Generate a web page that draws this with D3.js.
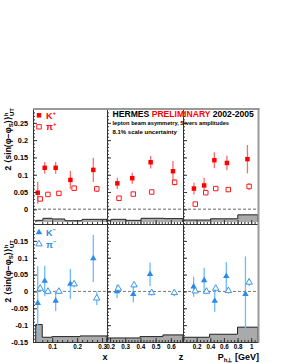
<!DOCTYPE html>
<html>
<head>
<meta charset="utf-8">
<script src="https://cdnjs.cloudflare.com/ajax/libs/d3/7.8.5/d3.min.js"></script>
<style>
  body { margin: 0; background: #fff; }
  svg { display: block; font-family: "Liberation Sans", Arial, sans-serif; font-weight: bold; }
</style>
</head>
<body>
<div id="chart"></div>
<script>
// K+ / pi+ (top row)
const kpX = [0.042, 0.070, 0.114, 0.173, 0.265];
const kpXVal = [0.048, 0.120, 0.120, 0.085, 0.114];
const kpXErr = [0.032, 0.017, 0.017, 0.026, 0.035];
const piPlusX = [0.052, 0.083, 0.127, 0.188, 0.279];
const piPlusXVal = [0.030, 0.043, 0.046, 0.061, 0.059];
const piPlusXErr = [0.006, 0.005, 0.005, 0.007, 0.009];

const kpZ = [0.248, 0.346, 0.467, 0.614];
const kpZVal = [0.075, 0.090, 0.136, 0.110];
const kpZErr = [0.016, 0.016, 0.018, 0.030];
const piPlusZ = [0.259, 0.353, 0.474, 0.625];
const piPlusZVal = [0.032, 0.044, 0.050, 0.078];
const piPlusZErr = [0.004, 0.005, 0.006, 0.009];

const kpP = [0.16, 0.31, 0.46, 0.644, 0.945];
const kpPVal = [0.060, 0.069, 0.142, 0.134, 0.145];
const kpPErr = [0.017, 0.022, 0.023, 0.021, 0.041];
const piPlusP = [0.18, 0.334, 0.48, 0.664, 0.97];
const piPlusPVal = [0.015, 0.048, 0.060, 0.057, 0.066];
const piPlusPErr = [0.004, 0.005, 0.006, 0.006, 0.010];

// K- / pi- (bottom row)
const kmX = [0.042, 0.070, 0.114, 0.173, 0.265];
const kmXVal = [-0.035, 0.031, -0.028, 0.022, 0.098];
const kmXErr = [0.11, 0.045, 0.030, 0.045, 0.070];
const piMinusX = [0.052, 0.083, 0.127, 0.188, 0.279];
const piMinusXVal = [0.009, 0.0, 0.0, 0.022, -0.020];
const piMinusXErr = [0.010, 0.008, 0.008, 0.010, 0.020];

const kmZ = [0.246, 0.353, 0.463];
const kmZVal = [0.0, -0.008, 0.051];
const kmZErr = [0.020, 0.025, 0.035];
const piMinusZ = [0.254, 0.358, 0.474, 0.623];
const piMinusZVal = [0.009, 0.019, -0.004, -0.004];
const piMinusZErr = [0.008, 0.008, 0.008, 0.010];

const kmP = [0.156, 0.31, 0.465, 0.635, 0.916];
const kmPVal = [0.014, 0.033, -0.028, 0.045, -0.008];
const kmPErr = [0.030, 0.037, 0.032, 0.042, 0.112];
const piMinusP = [0.179, 0.345, 0.48, 0.665, 0.97];
const piMinusPVal = [0.001, 0.0, 0.009, 0.002, 0.027];
const piMinusPErr = [0.006, 0.006, 0.007, 0.008, 0.012];

// systematic bands: bin edges and heights
const sysTopXEdges = [0.034, 0.063, 0.099, 0.151, 0.220, 0.32];
const sysTopX = [0.005, 0.011, 0.009, 0.004, 0.008];
const sysTopZEdges = [0.18, 0.206, 0.305, 0.404, 0.555, 0.68];
const sysTopZ = [0.005, 0.008, 0.005, 0.011, 0.010];
const sysTopPEdges = [0, 0.403, 0.804, 1.1];
const sysTopP = [0.006, 0.0095, 0.021];
const sysBotXEdges = [0.034, 0.06, 0.099, 0.212, 0.32];
const sysBotX = [0.052, 0.014, 0.016, 0.018];
const sysBotZEdges = [0.18, 0.397, 0.548, 0.68];
const sysBotZ = [0.012, 0.016, 0.021];
const sysBotPEdges = [0, 0.39, 0.8, 1.1];
const sysBotP = [0.014, 0.023, 0.044];

const width = 281, height = 363;
const red = "#ff0000", redBar = "#ff6b6b";
const blue = "#2b8ae6", blueBar = "#6cbcff";

const svg = d3.select("#chart").append("svg")
    .attr("width", width)
    .attr("height", height);

// Scales
const cols = {
    x: d3.scaleLinear().domain([0.023, 0.32]).range([33, 107]),
    z: d3.scaleLinear().domain([0.18, 0.68]).range([107, 183]),
    p: d3.scaleLinear().domain([0, 1.1]).range([183, 258])
};
const rows = {
    top: d3.scaleLinear().domain([-0.0425, 0.29]).range([224, 109]),
    bot: d3.scaleLinear().domain([-0.15, 0.2]).range([342, 224])
};

// Systematic bands
const bands = [
    { row: "top", col: "x", edges: sysTopXEdges, h: sysTopX, base: -0.037 },
    { row: "top", col: "z", edges: sysTopZEdges, h: sysTopZ, base: -0.037 },
    { row: "top", col: "p", edges: sysTopPEdges, h: sysTopP, base: -0.037 },
    { row: "bot", col: "x", edges: sysBotXEdges, h: sysBotX, base: -0.15 },
    { row: "bot", col: "z", edges: sysBotZEdges, h: sysBotZ, base: -0.15 },
    { row: "bot", col: "p", edges: sysBotPEdges, h: sysBotP, base: -0.15 }
];
bands.forEach(b => {
    const x = cols[b.col], y = rows[b.row];
    b.h.forEach((h, i) => {
        svg.append("rect")
            .attr("x", x(b.edges[i]))
            .attr("y", y(b.base + h))
            .attr("width", x(b.edges[i + 1]) - x(b.edges[i]))
            .attr("height", y(b.base) - y(b.base + h))
            .attr("fill", "#aaa");
    });
    // outline as a step line
    const pts = [];
    b.h.forEach((h, i) => {
        pts.push([x(b.edges[i]), y(b.base + h)]);
        pts.push([x(b.edges[i + 1]), y(b.base + h)]);
    });
    pts.unshift([x(b.edges[0]), y(b.base)]);
    pts.push([x(b.edges[b.edges.length - 1]), y(b.base)]);
    svg.append("path")
        .attr("d", d3.line()(pts))
        .attr("fill", "none")
        .attr("stroke", "#222")
        .attr("stroke-width", 1);
});

// Zero lines
svg.append("line")
    .attr("x1", 33).attr("x2", 258)
    .attr("y1", rows.top(0)).attr("y2", rows.top(0))
    .attr("stroke", "#999").attr("stroke-width", 1.4)
    .attr("stroke-dasharray", "3,2");
svg.append("line")
    .attr("x1", 33).attr("x2", 258)
    .attr("y1", rows.bot(0)).attr("y2", rows.bot(0))
    .attr("stroke", "#555").attr("stroke-width", 0.8)
    .attr("stroke-dasharray", "3,2");

// Data series
const series = [
    { row: "top", col: "x", pos: kpX, val: kpXVal, err: kpXErr, sym: d3.symbolSquare, open: false, c: red, bar: redBar },
    { row: "top", col: "x", pos: piPlusX, val: piPlusXVal, err: piPlusXErr, sym: d3.symbolSquare, open: true, c: red, bar: redBar },
    { row: "top", col: "z", pos: kpZ, val: kpZVal, err: kpZErr, sym: d3.symbolSquare, open: false, c: red, bar: redBar },
    { row: "top", col: "z", pos: piPlusZ, val: piPlusZVal, err: piPlusZErr, sym: d3.symbolSquare, open: true, c: red, bar: redBar },
    { row: "top", col: "p", pos: kpP, val: kpPVal, err: kpPErr, sym: d3.symbolSquare, open: false, c: red, bar: redBar },
    { row: "top", col: "p", pos: piPlusP, val: piPlusPVal, err: piPlusPErr, sym: d3.symbolSquare, open: true, c: red, bar: redBar },
    { row: "bot", col: "x", pos: kmX, val: kmXVal, err: kmXErr, sym: d3.symbolTriangle, open: false, c: blue, bar: blueBar },
    { row: "bot", col: "x", pos: piMinusX, val: piMinusXVal, err: piMinusXErr, sym: d3.symbolTriangle, open: true, c: blue, bar: blueBar },
    { row: "bot", col: "z", pos: kmZ, val: kmZVal, err: kmZErr, sym: d3.symbolTriangle, open: false, c: blue, bar: blueBar },
    { row: "bot", col: "z", pos: piMinusZ, val: piMinusZVal, err: piMinusZErr, sym: d3.symbolTriangle, open: true, c: blue, bar: blueBar },
    { row: "bot", col: "p", pos: kmP, val: kmPVal, err: kmPErr, sym: d3.symbolTriangle, open: false, c: blue, bar: blueBar },
    { row: "bot", col: "p", pos: piMinusP, val: piMinusPVal, err: piMinusPErr, sym: d3.symbolTriangle, open: true, c: blue, bar: blueBar }
];

series.forEach(s => {
    const x = cols[s.col], y = rows[s.row];
    const pts = s.pos.map((p, i) => ({ p, v: s.val[i], e: s.err[i] }));
    svg.append("g").selectAll("line")
        .data(pts)
        .join("line")
        .attr("x1", d => x(d.p)).attr("x2", d => x(d.p))
        .attr("y1", d => y(d.v - d.e)).attr("y2", d => y(d.v + d.e))
        .attr("stroke", s.bar)
        .attr("stroke-width", 1.3);
});
series.forEach(s => {
    const x = cols[s.col], y = rows[s.row];
    const size = s.sym === d3.symbolSquare ? 20 : 18;
    const pts = s.pos.map((p, i) => ({ p, v: s.val[i] }));
    svg.append("g").selectAll("path")
        .data(pts)
        .join("path")
        .attr("transform", d => `translate(${x(d.p)},${y(d.v)})`)
        .attr("d", d3.symbol(s.sym, size))
        .attr("fill", s.open ? "#fff" : s.c)
        .attr("stroke", s.open ? s.c : "none")
        .attr("stroke-width", 0.9);
});

// Axes
const fmt = d => String(+d.toFixed(2));
const yTicks = {
    top: { major: [0, 0.05, 0.1, 0.15, 0.2, 0.25], minor: d3.range(-4, 29).map(i => i / 100) },
    bot: { major: [-0.15, -0.1, -0.05, 0, 0.05, 0.1, 0.15], minor: d3.range(-15, 20).map(i => i / 100) }
};
const xTicks = {
    x: { major: [0.1, 0.2, 0.3], minor: d3.range(3, 16).map(i => i / 50) },
    z: { major: [0.2, 0.3, 0.4, 0.5, 0.6], minor: d3.range(10, 34).map(i => i / 50) },
    p: { major: [0.2, 0.4, 0.6, 0.8, 1], minor: d3.range(1, 22).map(i => i / 20) }
};

Object.keys(rows).forEach(r => {
    const y = rows[r];
    Object.keys(cols).forEach((c, ci) => {
        const x = cols[c];
        const left = x.range()[0];
        const bottom = y.range()[0];
        // left axis, ticks pointing inside
        svg.append("g").attr("transform", `translate(${left},0)`)
            .call(d3.axisRight(y).tickValues(yTicks[r].minor).tickSize(2).tickSizeOuter(0).tickFormat(""));
        svg.append("g").attr("transform", `translate(${left},0)`)
            .call(d3.axisRight(y).tickValues(yTicks[r].major).tickSize(4).tickSizeOuter(0).tickFormat(""));
        if (ci === 0) {
            svg.append("g").attr("transform", `translate(${left},0)`)
                .call(d3.axisLeft(y).tickValues(yTicks[r].major).tickSize(0).tickPadding(5).tickFormat(fmt))
                .call(g => g.select(".domain").remove())
                .selectAll("text").attr("font-size", 7.3).attr("font-family", null).attr("fill", "#000");
        }
        // bottom axis, ticks pointing up
        svg.append("g").attr("transform", `translate(0,${bottom})`)
            .call(d3.axisTop(x).tickValues(xTicks[c].minor.filter(v => v > x.domain()[0] && v < x.domain()[1])).tickSize(2).tickSizeOuter(0).tickFormat(""));
        svg.append("g").attr("transform", `translate(0,${bottom})`)
            .call(d3.axisTop(x).tickValues(xTicks[c].major).tickSize(4).tickSizeOuter(0).tickFormat(""));
        if (r === "bot") {
            svg.append("g").attr("transform", `translate(0,${bottom})`)
                .call(d3.axisBottom(x).tickValues(xTicks[c].major).tickSize(0).tickPadding(2.5).tickFormat(fmt))
                .call(g => g.select(".domain").remove())
                .selectAll("text").attr("font-size", 6.3).attr("font-family", null).attr("fill", "#000");
        }
    });
});
svg.selectAll(".domain, .tick line").attr("stroke", "#333");

// Frame shadow (top and right)
svg.append("line").attr("x1", 33).attr("x2", 259.5).attr("y1", 109).attr("y2", 109)
    .attr("stroke", "#999").attr("stroke-width", 2);
svg.append("line").attr("x1", 258.5).attr("x2", 258.5).attr("y1", 108).attr("y2", 342.5)
    .attr("stroke", "#999").attr("stroke-width", 2);

// Axis titles
svg.append("text").attr("x", 105).attr("y", 359.5).attr("text-anchor", "middle")
    .attr("font-size", 9).text("x");
svg.append("text").attr("x", 181).attr("y", 359.5).attr("text-anchor", "middle")
    .attr("font-size", 9).text("z");
const pt = svg.append("text").attr("x", 259).attr("y", 359.5).attr("text-anchor", "end").attr("font-size", 9);
pt.append("tspan").text("P");
pt.append("tspan").attr("font-size", 6).attr("dy", 2).text("h\u22A5");
pt.append("tspan").attr("dy", -2).text(" [GeV]");

function yTitle(yEnd) {
    const t = svg.append("text")
        .attr("transform", `translate(11,${yEnd}) rotate(-90)`)
        .attr("text-anchor", "end")
        .attr("font-size", 8.5);
    t.append("tspan").text("2 \u27E8sin(\u03C6\u2212\u03C6");
    t.append("tspan").attr("font-size", 6).attr("dy", 2).text("S");
    t.append("tspan").attr("dy", -2).text(")\u27E9");
    t.append("tspan").attr("font-size", 6).attr("dy", -3.5).text("h");
    t.append("tspan").attr("font-size", 6).attr("dx", -3.3).attr("dy", 6).text("UT");
}
yTitle(108);
yTitle(240);

// Legends
function legend(y0, sym, c, name, sign) {
    [false, true].forEach((open, i) => {
        const yy = y0 + i * 11.5;
        svg.append("path")
            .attr("transform", `translate(39,${yy})`)
            .attr("d", d3.symbol(sym, sym === d3.symbolSquare ? 20 : 18))
            .attr("fill", open ? "#fff" : c)
            .attr("stroke", open ? c : "none")
            .attr("stroke-width", 0.9);
        const t = svg.append("text").attr("x", 46).attr("y", yy + 3.5).attr("fill", c).attr("font-size", 9);
        t.append("tspan").text(i === 0 ? name : "\u03C0");
        t.append("tspan").attr("font-size", 6).attr("dy", -4).text(sign);
    });
}
legend(115.3, d3.symbolSquare, red, "K", "+");
legend(232.5, d3.symbolTriangle, blue, "K", "\u2212");

// Header
const h = svg.append("text").attr("x", 112.5).attr("y", 117.3).attr("font-size", 8.6);
h.append("tspan").text("HERMES ");
h.append("tspan").attr("fill", red).text("PRELIMINARY");
h.append("tspan").text(" 2002-2005");
svg.append("text").attr("x", 112.5).attr("y", 124.7).attr("font-size", 5.7)
    .text("lepton beam asymmetry, Sivers amplitudes");
svg.append("text").attr("x", 112.5).attr("y", 133.6).attr("font-size", 6)
    .text("8.1% scale uncertainty");
</script>
</body>
</html>
